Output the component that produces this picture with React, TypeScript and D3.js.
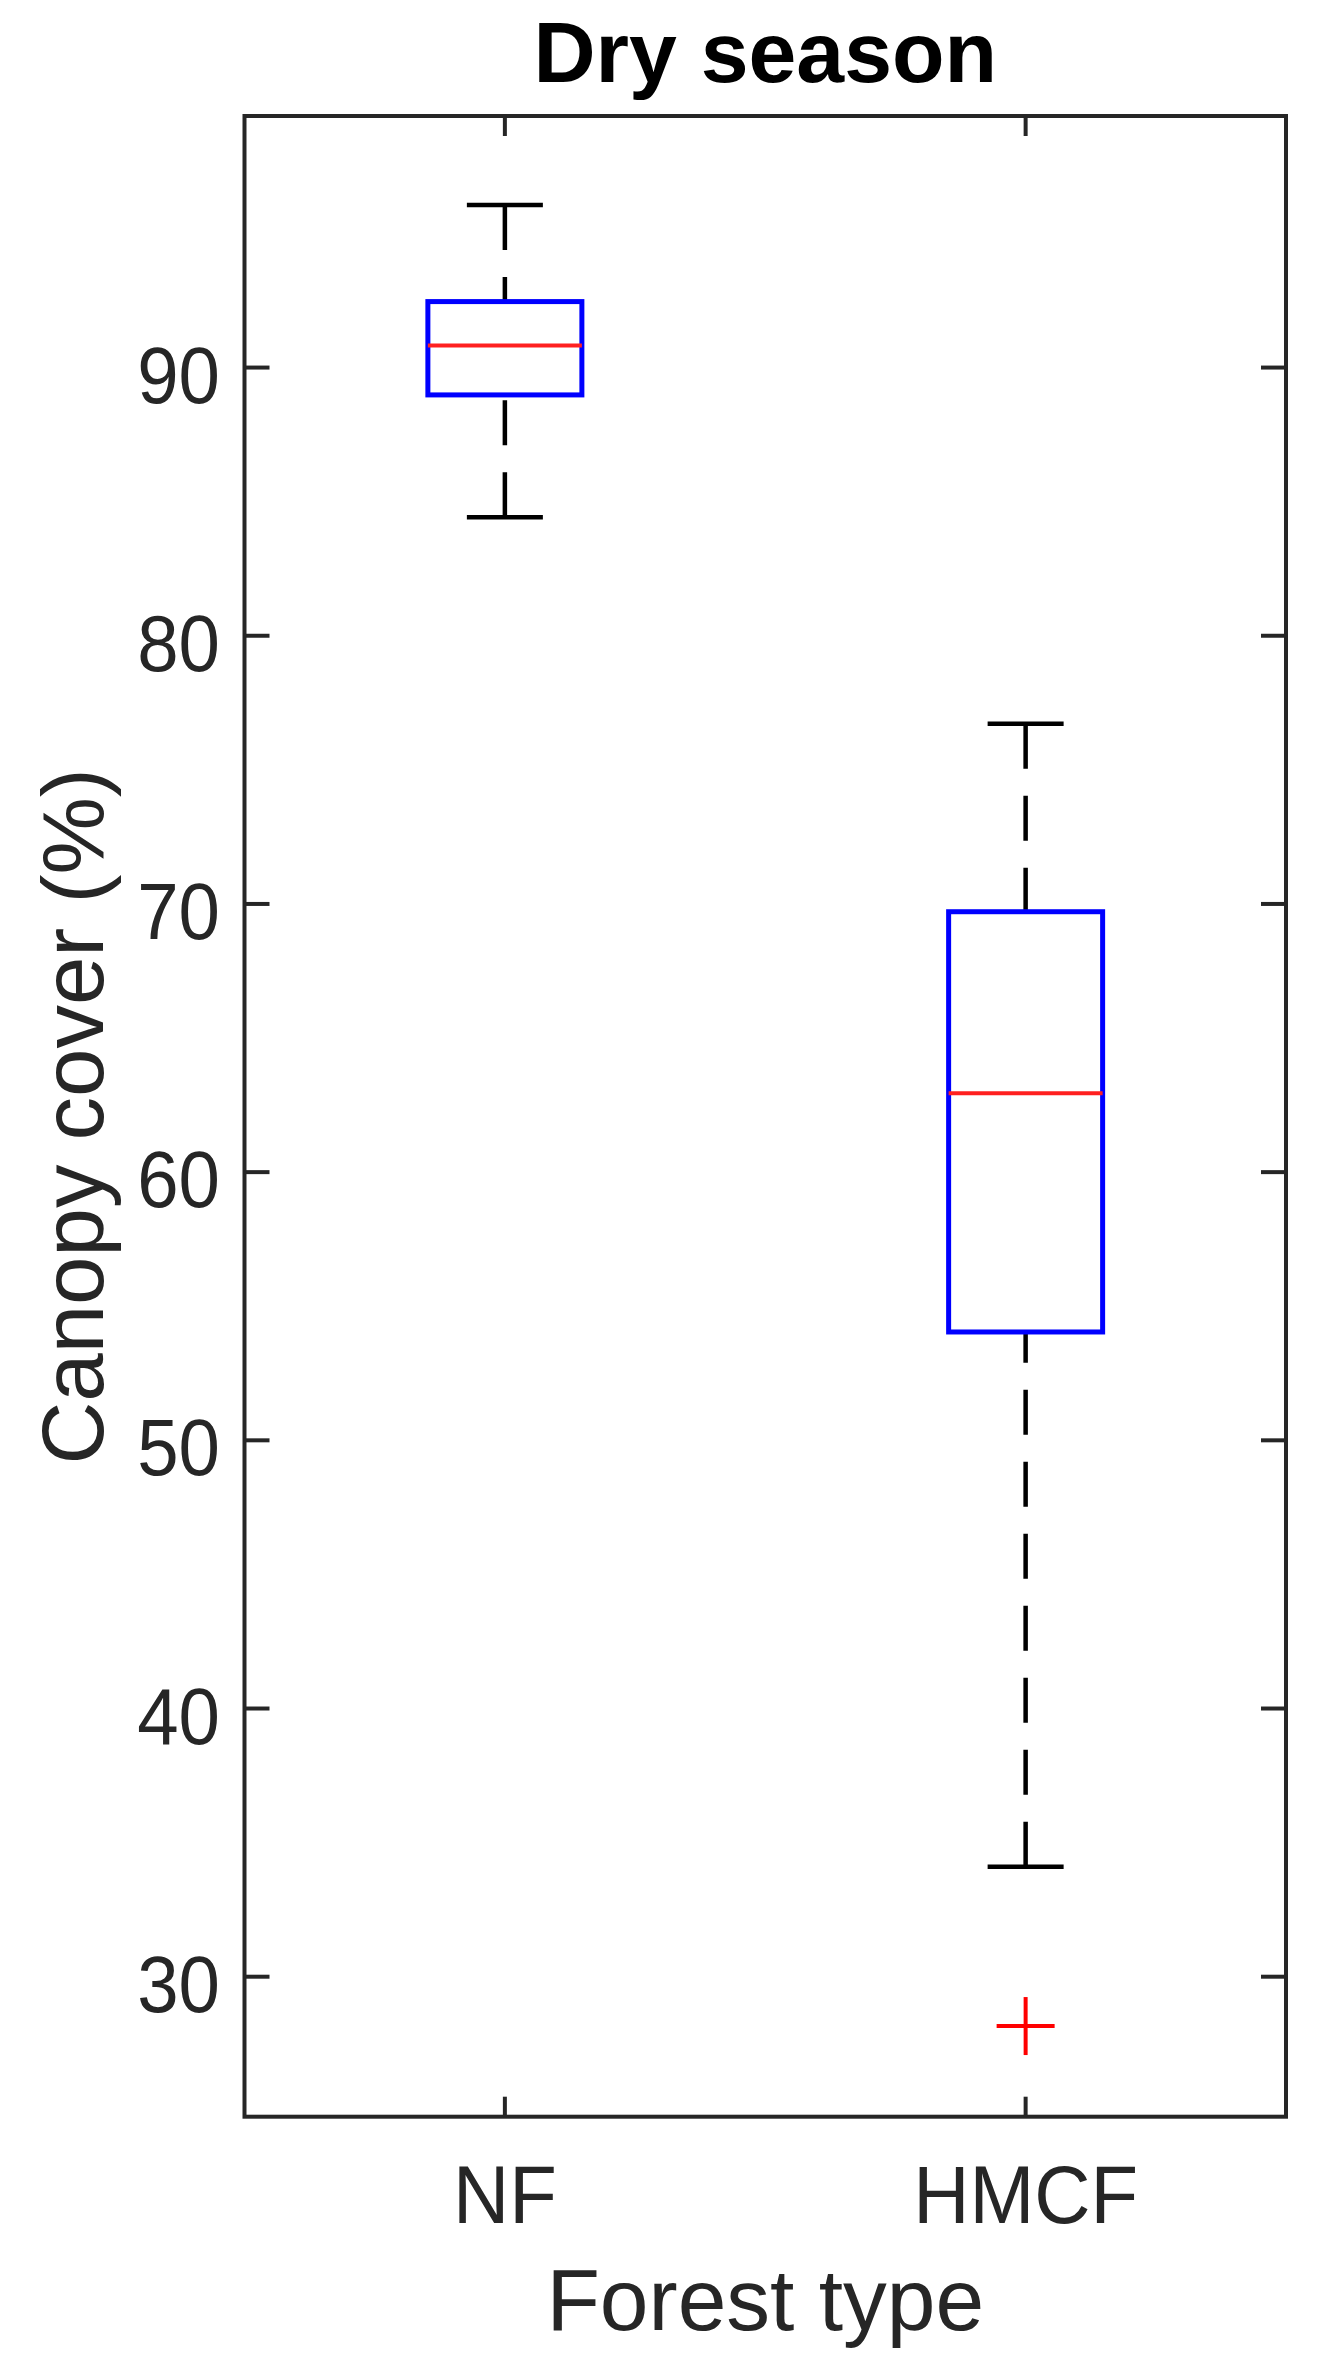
import React from "react";
import * as d3 from "d3";

const categories = ["NF", "HMCF"];
const lowerWhisker = [84.42, 34.1];
const q1 = [88.98, 54.04];
const medians = [90.82, 62.94];
const q3 = [92.46, 69.71];
const upperWhisker = [96.06, 76.72];
const outlierCategory = ["HMCF"];
const outlierValue = [28.16];
const yTicks = [30, 40, 50, 60, 70, 80, 90];
const yDomain = [24.78, 99.38];

const W = 1331;
const H = 2366;
const left = 244.5;
const right = 1286;
const top = 116;
const bottom = 2116.7;
const axisColor = "#262626";
const font = "'Liberation Sans', Arial, Helvetica, sans-serif";

export default function App() {
  const x = d3.scaleLinear().domain([0.5, categories.length + 0.5]).range([left, right]);
  const y = d3.scaleLinear().domain(yDomain).range([bottom, top]);
  const pos = (c: string) => x(categories.indexOf(c) + 1);
  const boxHalf = 77;
  const capHalf = 38;

  return (
    <svg width={W} height={H} style={{ position: "absolute", left: 0, top: 0, background: "#fff" }}>
      <rect x={0} y={0} width={W} height={H} fill="#fff" />
      {/* title */}
      <text x={(left + right) / 2} y={82} textAnchor="middle" fontFamily={font} fontWeight="bold" fontSize={86} fill="#000">
        Dry season
      </text>

      {/* boxes */}
      {categories.map((c, i) => {
        const cx = pos(c);
        return (
          <g key={c}>
            <line x1={cx} x2={cx} y1={y(upperWhisker[i])} y2={y(q3[i])} stroke="#000" strokeWidth={4.5} strokeDasharray="45 27" />
            <line x1={cx} x2={cx} y1={y(lowerWhisker[i])} y2={y(q1[i])} stroke="#000" strokeWidth={4.5} strokeDasharray="45 27" />
            <line x1={cx - capHalf} x2={cx + capHalf} y1={y(upperWhisker[i])} y2={y(upperWhisker[i])} stroke="#000" strokeWidth={4.5} />
            <line x1={cx - capHalf} x2={cx + capHalf} y1={y(lowerWhisker[i])} y2={y(lowerWhisker[i])} stroke="#000" strokeWidth={4.5} />
            <rect x={cx - boxHalf} y={y(q3[i])} width={2 * boxHalf} height={y(q1[i]) - y(q3[i])} fill="none" stroke="#0000ff" strokeWidth={5} />
            <line x1={cx - boxHalf} x2={cx + boxHalf} y1={y(medians[i])} y2={y(medians[i])} stroke="#ff2020" strokeWidth={4} />
          </g>
        );
      })}

      {/* outliers */}
      {outlierValue.map((v, i) => {
        const cx = pos(outlierCategory[i]);
        const cy = y(v);
        return (
          <g key={i} stroke="#ff0000" strokeWidth={4}>
            <line x1={cx - 29} x2={cx + 29} y1={cy} y2={cy} />
            <line x1={cx} x2={cx} y1={cy - 29} y2={cy + 29} />
          </g>
        );
      })}

      {/* axes frame */}
      <rect x={left} y={top} width={right - left} height={bottom - top} fill="none" stroke={axisColor} strokeWidth={4} />

      {/* y ticks */}
      {yTicks.map((t) => (
        <g key={t}>
          <line x1={left} x2={left + 25} y1={y(t)} y2={y(t)} stroke={axisColor} strokeWidth={4} />
          <line x1={right} x2={right - 25} y1={y(t)} y2={y(t)} stroke={axisColor} strokeWidth={4} />
          <text transform={`translate(220, ${y(t) + 35}) scale(0.93, 1)`} textAnchor="end" fontFamily={font} fontSize={80} fill={axisColor}>
            {t}
          </text>
        </g>
      ))}

      {/* x ticks */}
      {categories.map((c) => (
        <g key={c}>
          <line x1={pos(c)} x2={pos(c)} y1={bottom} y2={bottom - 20} stroke={axisColor} strokeWidth={4} />
          <line x1={pos(c)} x2={pos(c)} y1={top} y2={top + 20} stroke={axisColor} strokeWidth={4} />
          <text transform={`translate(${pos(c)}, 2223) scale(0.95, 1)`} textAnchor="middle" fontFamily={font} fontSize={82} fill={axisColor}>
            {c}
          </text>
        </g>
      ))}

      {/* axis labels */}
      <text x={(left + right) / 2} y={2330} textAnchor="middle" fontFamily={font} fontSize={87.5} fill={axisColor}>
        Forest type
      </text>
      <text transform={`translate(103, ${(top + bottom) / 2}) rotate(-90)`} textAnchor="middle" fontFamily={font} fontSize={87} fill={axisColor}>
        Canopy cover (%)
      </text>
    </svg>
  );
}
